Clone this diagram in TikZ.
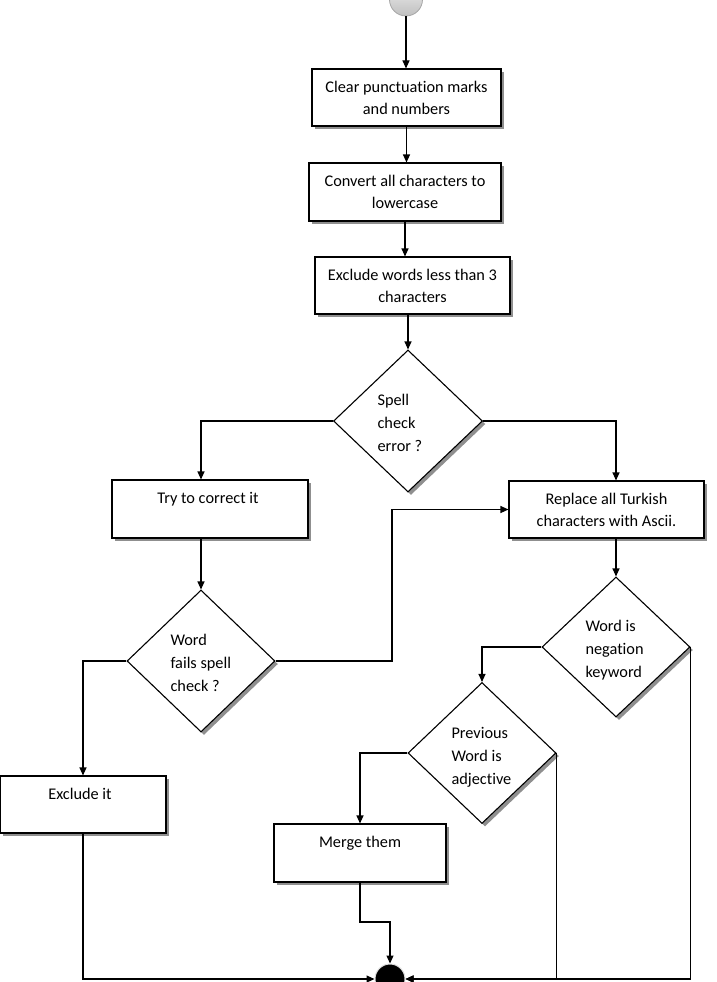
\documentclass[tikz,border=0pt]{standalone}
\usepackage{fontspec}
\setmainfont{Carlito}[Ligatures={NoCommon}]
\usetikzlibrary{arrows.meta,shapes.geometric,shadows}
\begin{document}
\begin{tikzpicture}[x=1pt,y=-1pt,
  line width=1.1pt,
  shad/.style={drop shadow={shadow xshift=3pt,shadow yshift=-3pt,fill=black!55,opacity=0.8}},
  box/.style={draw,fill=white,rectangle,inner sep=0pt,shad},
  dia/.style={draw,fill=white,diamond,inner sep=0pt,shad},
  btext/.style={anchor=north,inner sep=0pt,align=center,font=\fontsize{16.3}{22}\selectfont},
  dtext/.style={anchor=north west,inner sep=0pt,align=left,font=\fontsize{16.3}{23}\selectfont},
  arr/.style={-{Triangle[length=8pt,width=7pt]}}
]
\useasboundingbox (0,0) rectangle (716,982);

% start / end
\node[circle,minimum size=33pt,inner sep=0pt,draw=gray!70,line width=0.8pt,top color=gray!12,bottom color=gray!50] (start) at (406,-0.5) {};
\node[circle,minimum size=30pt,inner sep=0pt,fill=black,draw=gray!25,line width=1pt] (end) at (390,979) {};

% boxes
\node[box,minimum width=189pt,minimum height=57pt] (b1) at (406.5,97.5) {};
\node[btext] at (406.5,80) {\rule{0pt}{12pt}Clear punctuation marks\\and numbers};
\node[box,minimum width=192pt,minimum height=58pt] (b2) at (405,192) {};
\node[btext] at (405,174) {\rule{0pt}{12pt}Convert all characters to\\lowercase};
\node[box,minimum width=195pt,minimum height=57pt] (b3) at (412.5,285.5) {};
\node[btext] at (412.5,268) {\rule{0pt}{12pt}Exclude words less than 3\\characters};
\node[box,minimum width=196pt,minimum height=58pt] (try) at (210,509) {};
\node[btext] at (208,491) {\rule{0pt}{12pt}Try to correct it};
\node[box,minimum width=195pt,minimum height=57pt] (rep) at (606.5,509.5) {};
\node[btext] at (606.5,492) {\rule{0pt}{12pt}Replace all Turkish\\characters with Ascii.};
\node[box,minimum width=166pt,minimum height=57pt] (excl) at (83,804.5) {};
\node[btext] at (80,787) {\rule{0pt}{12pt}Exclude it};
\node[box,minimum width=172pt,minimum height=58pt] (merge) at (360,853) {};
\node[btext] at (360,835) {\rule{0pt}{12pt}Merge them};

% diamonds
\node[dia,minimum width=149pt,minimum height=142pt] (d1) at (408,421) {};
\node[dtext] at (377,393) {\rule{0pt}{12pt}Spell\\check\\error ?};
\node[dia,minimum width=148pt,minimum height=142pt] (d2) at (201,661) {};
\node[dtext] at (170,633) {\rule{0pt}{12pt}Word\\fails spell\\check ?};
\node[dia,minimum width=148pt,minimum height=140pt] (d3) at (616,647) {};
\node[dtext] at (585,619) {\rule{0pt}{12pt}Word is\\negation\\keyword};
\node[dia,minimum width=148pt,minimum height=141pt] (d4) at (482,753) {};
\node[dtext] at (451,726) {\rule{0pt}{12pt}Previous\\Word is\\adjective};

\coordinate (j1) at (392,661);
\coordinate (j2) at (360,922);

% connectors
\draw[arr] (start.south) -- (start.south |- b1.north);
\draw[arr] (b1.south) -- (b1.south |- b2.north);
\draw[arr] (b2.south) -- (b2.south |- b3.north);
\draw[arr] (d1.north |- b3.south) -- (d1.north);
\draw[arr] (d1.west) -| (d2.north |- try.north);
\draw[arr] (d1.east) -| (d3.north |- rep.north);
\draw[arr] (d2.north |- try.south) -- (d2.north);
\draw[arr] (d2.east) -- (j1) |- (rep.west);
\draw[arr] (d2.west) -| (excl.north);
\draw[arr] (excl.south) |- (end.west);
\draw[arr] (d3.north |- rep.south) -- (d3.north);
\draw[arr] (d3.west) -| (d4.north);
\draw[arr] (d4.west) -| (merge.north);
\draw[arr] (merge.south) -- (j2) -| (end.north);
\draw[arr] (d4.east) |- (end.east);
\draw[arr] (d3.east) |- (end.east);
\end{tikzpicture}
\end{document}
